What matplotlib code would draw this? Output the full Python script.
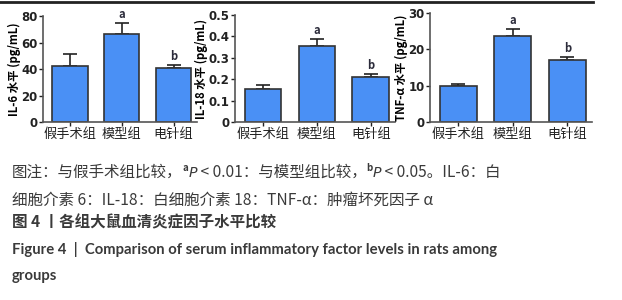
import matplotlib
matplotlib.use("Agg")
import matplotlib.pyplot as plt

plt.rcParams['font.family'] = ['Noto Sans CJK SC', 'DejaVu Sans']

groups = ['假手术组', '模型组', '电针组']

il6_mean = [42.5, 66.5, 40.5]
il6_err = [8.5, 8.0, 2.5]
il18_mean = [0.152, 0.357, 0.212]
il18_err = [0.019, 0.030, 0.011]
tnf_mean = [9.8, 23.8, 17.0]
tnf_err = [0.6, 1.7, 1.0]
marks = ['', 'a', 'b']

panels = [
    # (left px, right px, top px, ylabel, means, errs, ymax, yticks, ticklabels)
    (43, 197, 16, 'IL-6 水平 (pg/mL)', il6_mean, il6_err, 80,
     [0, 20, 40, 60, 80], ['0', '20', '40', '60', '80']),
    (235, 395, 15, 'IL-18 水平 (pg/mL)', il18_mean, il18_err, 0.5,
     [0, 0.1, 0.2, 0.3, 0.4, 0.5], ['0', '0.1', '0.2', '0.3', '0.4', '0.5']),
    (430, 592, 13, 'TNF-α 水平 (pg/mL)', tnf_mean, tnf_err, 30,
     [0, 10, 20, 30], ['0', '10', '20', '30']),
]

W, H = 622, 300
fig = plt.figure(figsize=(W / 100, H / 100), dpi=100)

# top rule left over from the page
fig.add_artist(plt.Line2D([0, 593 / W], [1 - 1.5 / H, 1 - 1.5 / H], color='#222222', lw=2))

bottom_px = 122
for left, right, top, ylab, means, errs, ymax, yt, ytl in panels:
    ax = fig.add_axes([left / W, 1 - bottom_px / H, (right - left) / W, (bottom_px - top) / H])
    x = range(len(groups))
    ax.bar(x, means, width=0.68, color='#4a90f5', edgecolor='#333333', linewidth=1.2, zorder=2)
    ax.errorbar(x, means, yerr=[[0] * 3, errs], fmt='none', ecolor='#222222',
                elinewidth=1.2, capsize=5, capthick=1.2, zorder=1)
    for i, m in enumerate(marks):
        if m:
            ax.annotate(m, (i, means[i] + errs[i]), xytext=(0, 1.5), textcoords='offset points',
                        ha='center', va='bottom', fontsize=8, fontweight='bold', color='#2b2b3a')
    ax.set_xlim(-0.52, 2.45)
    ax.set_ylim(0, ymax)
    ax.set_yticks(yt)
    ax.set_yticklabels(ytl, fontsize=8.5, fontweight='bold', family='DejaVu Sans')
    ax.set_xticks(list(x))
    ax.set_xticklabels(groups, fontsize=9.5)
    ax.set_ylabel(ylab, fontsize=8.2, fontweight='bold', labelpad=0)
    ax.tick_params(axis='both', length=3, width=1, pad=1, colors='#222222')
    for s in ['top', 'right']:
        ax.spines[s].set_visible(False)
    for s in ['left', 'bottom']:
        ax.spines[s].set_color('#555555')
        ax.spines[s].set_linewidth(1.2)

renderer = fig.canvas.get_renderer()
tc = '#3a3a3a'


def runs(x_px, y_px, parts):
    # write pieces one after another on the same baseline
    x = x_px
    for txt, kw in parts:
        dy = kw.pop('dy', 0)
        t = fig.text(x / W, 1 - (y_px - dy) / H, txt, va='baseline', ha='left', color=tc, **kw)
        bb = t.get_window_extent(renderer)
        x += bb.width


fs = 11.2
runs(12, 177, [
    ('图注：与假手术组比较，', dict(fontsize=fs)),
    ('a', dict(fontsize=7, fontweight='bold', dy=6)),
    ('P', dict(fontsize=fs - 1, style='italic', family='DejaVu Sans')),
    (' < 0.01：与模型组比较，', dict(fontsize=fs)),
    ('b', dict(fontsize=7, fontweight='bold', dy=6)),
    ('P', dict(fontsize=fs - 1, style='italic', family='DejaVu Sans')),
    (' < 0.05。IL-6：白', dict(fontsize=fs)),
])
runs(12, 205, [('细胞介素 6：IL-18：白细胞介素 18：TNF-α：肿瘤坏死因子 α', dict(fontsize=fs))])
runs(12, 227, [('图 4 丨各组大鼠血清炎症因子水平比较', dict(fontsize=fs, fontweight='bold'))])
runs(12, 254, [('Figure 4  |  Comparison of serum inflammatory factor levels in rats among',
                dict(fontsize=10.75, fontweight='bold', family='Lato'))])
runs(12, 280, [('groups', dict(fontsize=10.75, fontweight='bold', family='Lato'))])

fig.savefig('out.png', dpi=100)
